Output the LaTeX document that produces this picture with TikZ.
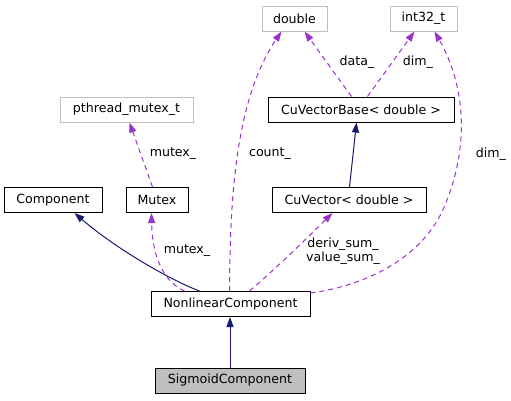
\documentclass[tikz,border=0pt]{standalone}
\usepackage{fontspec}
\setmainfont{DejaVu Sans}
\usetikzlibrary{arrows.meta,calc}
\definecolor{navyedge}{HTML}{191970}
\definecolor{purpedge}{HTML}{9A32CD}
\definecolor{extgray}{HTML}{BFBFBF}
\begin{document}
\begin{tikzpicture}[x=1pt,y=-1pt,
  lbl/.style={font=\fontsize{12.6}{14}\selectfont, inner sep=0pt, align=center, text=black},
  box/.style={draw=black, line width=1pt, minimum height=25pt, inner sep=0pt, font=\fontsize{12.6}{14}\selectfont},
  extbox/.style={box, draw=extgray},
  inh/.style={draw=navyedge, line width=1pt, -{Triangle[length=10pt,width=7pt]}, color=navyedge},
  use/.style={draw=purpedge, line width=1pt, dash pattern=on 5pt off 4pt, -{Triangle[length=10pt,width=7pt]}, color=purpedge}]
\useasboundingbox (0,0) rectangle (511,400);
% nodes
\node[extbox, minimum width=65pt] (dbl) at (294.5,18.5) {double};
\node[extbox, minimum width=67pt] (i32) at (423.5,18.5) {int32\_t};
\node[box, minimum width=186pt] (cvb) at (361,109.5) {CuVectorBase< double >};
\node[extbox, minimum width=133pt] (pth) at (126.5,109.5) {pthread\_mutex\_t};
\node[box, minimum width=98pt] (comp) at (53,200) {Component};
\node[box, minimum width=62pt] (mtx) at (157,200) {Mutex};
\node[box, minimum width=154pt] (cv) at (349,200) {CuVector< double >};
\node[box, minimum width=159pt] (nl) at (230.5,304) {NonlinearComponent};
\node[box, minimum width=150pt, fill=extgray] (sig) at (230,380.5) {SigmoidComponent};
% inheritance
\draw[inh] (sig.south |- sig.north) -- (sig.north |- nl.south);
\draw[inh] ($(nl.north west)+(49,0)$) .. controls (170,280) and (115,248) .. ($(comp.south west)+(71,0)$);
\draw[inh] ($(cv.north west)+(78,0)$) -- ($(cvb.south west)+(89,0)$);
% usage
\draw[use] ($(mtx.north west)+(27,0)$) -- ($(pth.south west)+(70,0)$);
\node[lbl] (l1) at (173,154) {mutex\_};
\draw[use] ($(nl.north west)+(34,0)$) .. controls (160,280) and (152,250) .. ($(mtx.south west)+(26,0)$);
\node[lbl] (l2) at (187,251) {mutex\_};
\draw[use] ($(nl.north west)+(79,0)$) .. controls (230,200) and (235,100) .. ($(dbl.south west)+(20,0)$);
\node[lbl] (l3) at (270,154) {count\_};
\draw[use] ($(cvb.north west)+(84,0)$) -- ($(dbl.south west)+(43,0)$);
\node[lbl] (l4) at (357,62) {data\_};
\draw[use] ($(cvb.north west)+(100,0)$) -- ($(i32.south west)+(25,0)$);
\node[lbl] (l5) at (418,62) {dim\_};
\draw[use] ($(nl.east)+(0,-11)$) .. controls (370,285) and (425,255) .. (445,205) .. controls (470,145) and (465,85) .. ($(i32.south west)+(45,0)$);
\node[lbl] (l6) at (491,154) {dim\_};
\draw[use] ($(nl.north west)+(99,0)$) .. controls (280,265) and (310,235) .. ($(cv.south west)+(61,0)$);
\node[lbl] (l7) at (343,251) {deriv\_sum\_\\value\_sum\_};
\end{tikzpicture}
\end{document}
